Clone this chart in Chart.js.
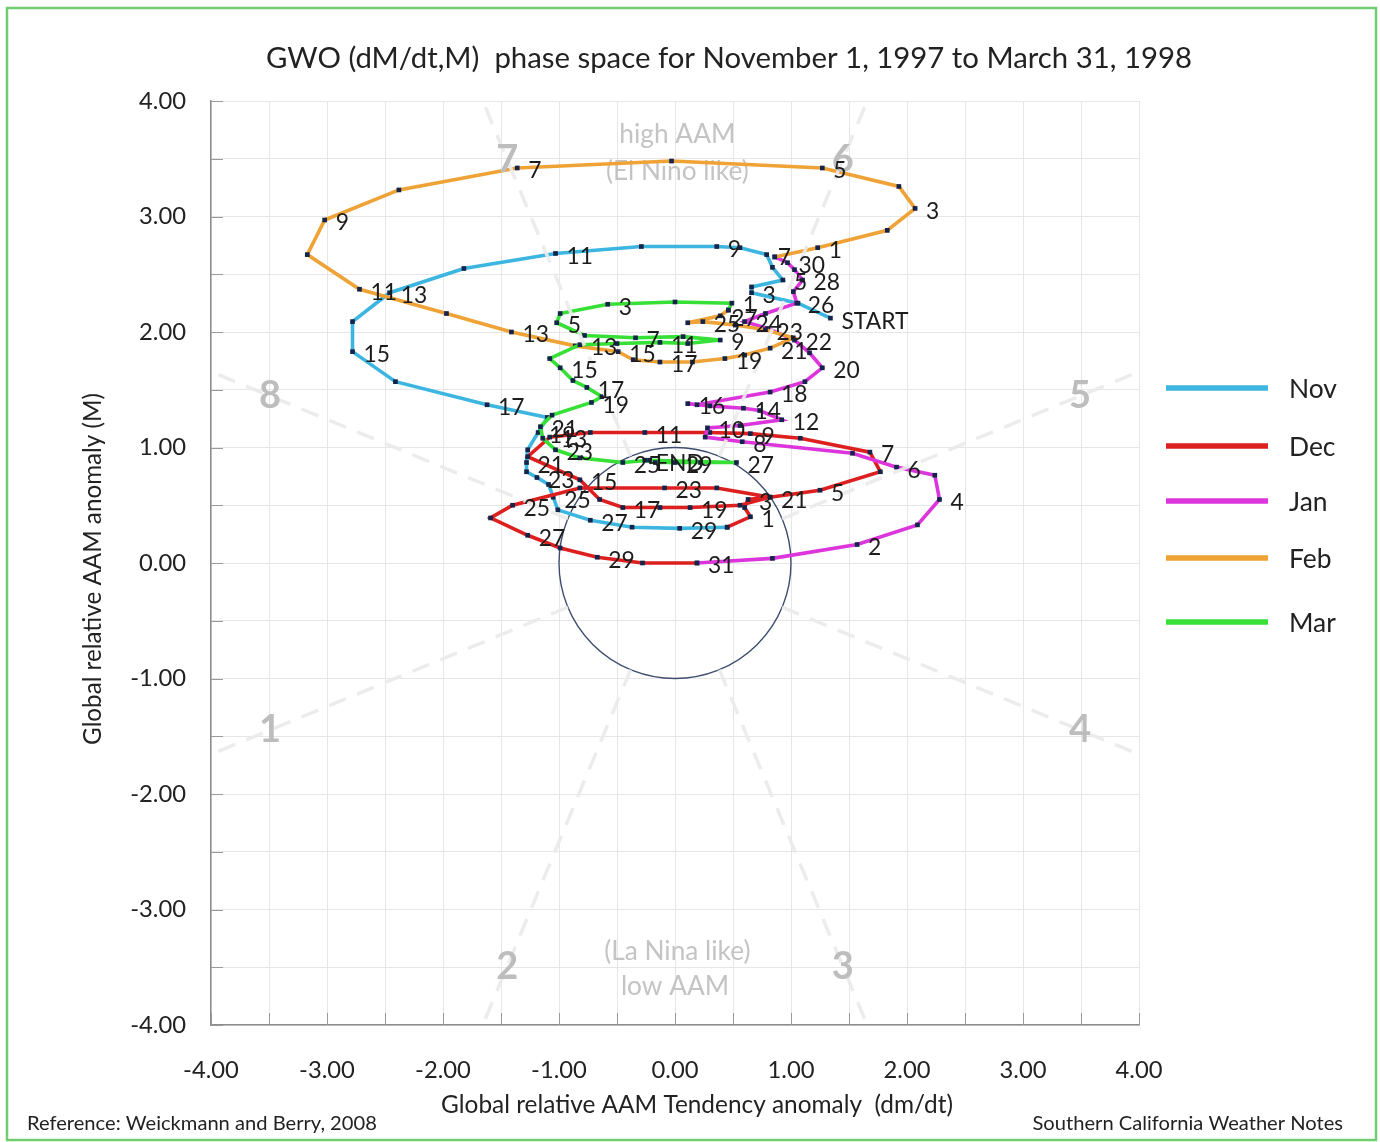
<!DOCTYPE html>
<html><head><meta charset="utf-8">
<script src="https://cdn.jsdelivr.net/npm/chart.js@4/dist/chart.umd.min.js"></script>
<style>html,body{margin:0;padding:0;background:#fff;}canvas{display:block;}</style>
</head><body>
<canvas id="c" width="1380" height="1142"></canvas>
<script>
// ---------------- DATA ----------------
const months = ['Nov', 'Dec', 'Jan', 'Feb', 'Mar'];
const colors = ['#3cb6e0', '#dd1f1f', '#dc35dc', '#efa235', '#36e036'];

// dM/dt (x) and M (y), one value per day
const novX = [1.34,1.06,0.66,0.66,0.93,0.84,0.79,0.56,0.36,-0.29,-1.03,-1.82,-2.46,-2.78,-2.78,-2.41,-1.62,-1.10,-1.18,-1.27,-1.28,-1.28,-1.19,-1.09,-1.05,-1.01,-0.73,-0.37,0.04,0.45];
const novY = [2.12,2.25,2.34,2.39,2.45,2.56,2.67,2.73,2.74,2.74,2.68,2.55,2.34,2.09,1.83,1.57,1.37,1.26,1.13,0.98,0.87,0.79,0.74,0.68,0.57,0.46,0.37,0.31,0.30,0.31];
const decX = [0.65,0.60,0.63,0.82,1.25,1.77,1.68,1.08,0.65,0.30,-0.26,-0.73,-1.08,-1.27,-0.82,-0.65,-0.45,-0.13,0.13,0.56,0.82,0.36,-0.09,-0.82,-1.40,-1.59,-1.27,-0.99,-0.67,-0.28,0.19];
const decY = [0.40,0.48,0.55,0.57,0.63,0.79,0.96,1.08,1.12,1.13,1.13,1.13,1.09,0.92,0.72,0.55,0.48,0.48,0.48,0.50,0.57,0.65,0.65,0.65,0.50,0.39,0.24,0.13,0.05,0.00,0.00];
const janX = [0.84,1.57,2.09,2.28,2.24,1.91,1.53,0.58,0.26,0.28,0.56,0.92,0.73,0.59,0.30,0.11,0.19,0.82,1.12,1.27,1.16,1.03,0.80,0.60,0.78,1.05,1.02,1.10,1.03,0.97,0.86];
const janY = [0.04,0.16,0.33,0.55,0.76,0.83,0.95,1.05,1.09,1.17,1.19,1.24,1.32,1.34,1.36,1.38,1.37,1.48,1.57,1.69,1.82,1.93,2.03,2.09,2.16,2.25,2.35,2.45,2.54,2.60,2.65];
const febX = [1.23,1.83,2.07,1.93,1.27,-0.03,-1.36,-2.38,-3.02,-3.17,-2.72,-1.97,-1.41,-0.86,-0.49,-0.36,-0.13,0.15,0.43,0.60,0.82,1.02,0.78,0.52,0.24,0.11,0.39,0.46];
const febY = [2.73,2.88,3.07,3.26,3.42,3.48,3.42,3.23,2.97,2.67,2.37,2.16,2.00,1.88,1.83,1.76,1.74,1.74,1.77,1.80,1.86,1.95,2.02,2.06,2.09,2.08,2.14,2.19];
const marX = [0.49,0.00,-0.58,-0.99,-1.02,-0.78,-0.34,0.07,0.39,0.11,-0.13,-0.50,-0.82,-1.08,-0.99,-0.88,-0.76,-0.63,-0.72,-1.06,-1.16,-1.14,-1.03,-0.82,-0.45,-0.22,0.53,0.22,0.00,-0.17,-0.26];
const marY = [2.25,2.26,2.24,2.16,2.08,1.97,1.95,1.96,1.93,1.90,1.91,1.90,1.89,1.77,1.69,1.58,1.52,1.44,1.39,1.28,1.18,1.08,0.98,0.91,0.87,0.89,0.87,0.87,0.87,0.87,0.89];

// which days carry a day-number label (odd days; even days for January)
const labelParity = [1, 1, 0, 1, 1];
const startLabel = 'START';
const endLabel = 'END';

// axis tick values (every 0.5 has a grid line, integers are labelled)
const tickValues = [-4,-3.5,-3,-2.5,-2,-1.5,-1,-0.5,0,0.5,1,1.5,2,2.5,3,3.5,4];
const phaseNames = ['1','2','3','4','5','6','7','8'];

const titleText = 'GWO (dM/dt,M)  phase space for November 1, 1997 to March 31, 1998';
const xTitleText = 'Global relative AAM Tendency anomaly  (dm/dt)';
const yTitleText = 'Global relative AAM anomaly (M)';
const footLeft = 'Reference: Weickmann and Berry, 2008';
const footRight = 'Southern California Weather Notes';
const topTexts = ['high AAM', '(El Nino like)'];
const bottomTexts = ['(La Nina like)', 'low AAM'];

// ---------------- BUILD ----------------
const FAM = 'Lato, "Open Sans", "DejaVu Sans", sans-serif';
const mctx = document.createElement('canvas').getContext('2d');
function fit(text, w, wt) { mctx.font = (wt || 'normal') + ' 100px ' + FAM; return 100 * w / mctx.measureText(text).width; }

function make() {
  const S = {
    title: fit(titleText, 926),
    xTitle: fit(xTitleText, 512),
    yTitle: fit(yTitleText, 352),
    tick: fit('0.00', 47),
    label: fit('START', 67),
    legend: fit('Nov', 48),
    foot: fit(footLeft, 350),
    aam: fit('high AAM', 116)
  };
  const xs = [novX, decX, janX, febX, marX];
  const ys = [novY, decY, janY, febY, marY];

  const datasets = months.map((m, i) => {
    const pts = xs[i].map((v, j) => ({ x: v, y: ys[i][j], day: j + 1 }));
    const n = pts.length;
    pts.forEach(p => {
      p.lab = (p.day % 2 === labelParity[i]) ? String(p.day) : '';
    });
    if (i === 0) pts[0].lab = startLabel;
    if (i === months.length - 1) pts[n - 1].lab = endLabel;
    // continue the track from the previous month's last day
    if (i > 0) {
      const px = xs[i - 1], py = ys[i - 1];
      pts.unshift({ x: px[px.length - 1], y: py[py.length - 1], day: 0, lab: '' });
    }
    return {
      label: m, data: pts, showLine: true, borderColor: colors[i], backgroundColor: colors[i],
      borderWidth: 3.6, tension: 0,
      pointStyle: 'rect', pointRadius: 3.3, pointHoverRadius: 3.3,
      pointBackgroundColor: '#15244a', pointBorderColor: '#15244a', pointBorderWidth: 0,
      order: months.length - i
    };
  });

  const plug = {
    id: 'gwoDeco',
    beforeDatasetsDraw(chart) {
      const { ctx, scales: { x, y } } = chart;
      ctx.save();
      // inside tick marks
      ctx.strokeStyle = '#9a9a9a'; ctx.lineWidth = 1;
      tickValues.forEach(v => {
        const py = Math.round(y.getPixelForValue(v)) + 0.5;
        ctx.beginPath(); ctx.moveTo(x.left, py); ctx.lineTo(x.left + 12, py); ctx.stroke();
        const px = Math.round(x.getPixelForValue(v)) + 0.5;
        ctx.beginPath(); ctx.moveTo(px, y.bottom); ctx.lineTo(px, y.bottom - 12); ctx.stroke();
      });
      // high / low AAM texts
      ctx.fillStyle = '#c4c4c4'; ctx.textAlign = 'center'; ctx.textBaseline = 'middle';
      ctx.font = S.aam + 'px ' + FAM;
      ctx.fillText(topTexts[0], x.getPixelForValue(0.02), y.getPixelForValue(3.71));
      ctx.fillText(topTexts[1], x.getPixelForValue(0.02), y.getPixelForValue(3.39));
      ctx.fillText(bottomTexts[0], x.getPixelForValue(0.02), y.getPixelForValue(-3.36));
      ctx.fillText(bottomTexts[1], x.getPixelForValue(0.0), y.getPixelForValue(-3.67));
      // unit circle
      const cx = x.getPixelForValue(0), cy = y.getPixelForValue(0);
      const rx = x.getPixelForValue(1) - cx, ry = cy - y.getPixelForValue(1);
      ctx.beginPath(); ctx.ellipse(cx, cy, rx, ry, 0, 0, Math.PI * 2);
      ctx.strokeStyle = '#3c4d70'; ctx.lineWidth = 1.4; ctx.stroke();
      ctx.restore();
    },
    afterDatasetsDraw(chart) {
      const { ctx, scales: { x, y } } = chart;
      ctx.save();
      // phase boundary lines (dashed, very light) from the unit circle outward
      ctx.strokeStyle = 'rgba(234,234,234,0.92)'; ctx.lineWidth = 3.5; ctx.setLineDash([18, 12]);
      for (let k = 0; k < 8; k++) {
        const a = (22.5 + 45 * k) * Math.PI / 180;
        ctx.beginPath();
        ctx.moveTo(x.getPixelForValue(Math.cos(a)), y.getPixelForValue(Math.sin(a)));
        ctx.lineTo(x.getPixelForValue(4.35 * Math.cos(a)), y.getPixelForValue(4.35 * Math.sin(a)));
        ctx.stroke();
      }
      ctx.setLineDash([]);
      // phase numbers
      ctx.fillStyle = '#bdbdbd'; ctx.font = 'bold 38px ' + FAM; ctx.textAlign = 'center'; ctx.textBaseline = 'middle';
      phaseNames.forEach((p, k) => {
        const a = (202.5 + 45 * k) * Math.PI / 180;
        ctx.fillText(p, x.getPixelForValue(3.78 * Math.cos(a)), y.getPixelForValue(3.78 * Math.sin(a)));
      });
      // day labels
      ctx.fillStyle = '#1c1c1c'; ctx.font = S.label + 'px ' + FAM; ctx.textAlign = 'left'; ctx.textBaseline = 'middle';
      chart.data.datasets.forEach((ds, i) => {
        const meta = chart.getDatasetMeta(i);
        meta.data.forEach((el, j) => {
          const lab = ds.data[j].lab;
          if (lab) ctx.fillText(lab, el.x + 11, el.y + 3);
        });
      });
      ctx.restore();
    },
    afterDraw(chart) {
      const { ctx } = chart;
      ctx.save();
      ctx.fillStyle = '#222'; ctx.textBaseline = 'middle';
      // title
      ctx.font = S.title + 'px ' + FAM; ctx.textAlign = 'center';
      ctx.fillText(titleText, 729, 59);
      // axis titles
      ctx.font = S.xTitle + 'px ' + FAM;
      ctx.fillText(xTitleText, 697, 1105);
      ctx.save(); ctx.translate(93, 569); ctx.rotate(-Math.PI / 2);
      ctx.font = S.yTitle + 'px ' + FAM; ctx.fillText(yTitleText, 0, 0); ctx.restore();
      // footers
      ctx.font = S.foot + 'px ' + FAM; ctx.textAlign = 'left';
      ctx.fillText(footLeft, 27, 1123);
      ctx.textAlign = 'right'; ctx.fillText(footRight, 1343, 1123);
      // legend
      const ly = [388, 446, 501, 558, 622];
      ctx.textAlign = 'left'; ctx.font = S.legend + 'px ' + FAM;
      months.forEach((m, i) => {
        ctx.strokeStyle = colors[i]; ctx.lineWidth = 5.5;
        ctx.beginPath(); ctx.moveTo(1166, ly[i]); ctx.lineTo(1268, ly[i]); ctx.stroke();
        ctx.fillStyle = '#222'; ctx.fillText(m, 1289, ly[i] + 1);
      });
      // outer green frame
      ctx.strokeStyle = '#72cc72'; ctx.lineWidth = 2.5;
      ctx.strokeRect(7, 8, 1369, 1132);
      ctx.restore();
    }
  };

  const tickCb = v => (Math.abs(v - Math.round(v)) < 1e-6 ? (Math.round(v) === 0 ? 0 : v).toFixed(2) : '');

  new Chart(document.getElementById('c'), {
    type: 'scatter',
    data: { datasets },
    options: {
      responsive: false, animation: false, devicePixelRatio: 1,
      layout: { padding: { top: 101, right: 241, left: 0, bottom: 0 } },
      plugins: { legend: { display: false }, title: { display: false }, tooltip: { enabled: false } },
      scales: {
        x: {
          type: 'linear', min: -4, max: 4,
          afterBuildTicks: s => { s.ticks = tickValues.map(v => ({ value: v })); },
          ticks: { autoSkip: false, maxRotation: 0, padding: 31, color: '#222', font: { family: FAM, size: S.tick }, callback: tickCb },
          grid: { color: '#e6e6e6', drawTicks: false },
          border: { color: '#8c8c8c', width: 1.5 },
          afterFit: s => { s.height = 117; }
        },
        y: {
          type: 'linear', min: -4, max: 4,
          afterBuildTicks: s => { s.ticks = tickValues.map(v => ({ value: v })); },
          ticks: { autoSkip: false, padding: 25, color: '#222', font: { family: FAM, size: S.tick }, callback: tickCb },
          grid: { color: '#e6e6e6', drawTicks: false },
          border: { color: '#8c8c8c', width: 1.5 },
          afterFit: s => { s.width = 211; }
        }
      }
    },
    plugins: [plug]
  });
}

if (document.fonts && document.fonts.load) {
  Promise.all([document.fonts.load('20px Lato'), document.fonts.load('bold 20px Lato')]).then(make, make);
} else { make(); }
</script>
</body></html>
